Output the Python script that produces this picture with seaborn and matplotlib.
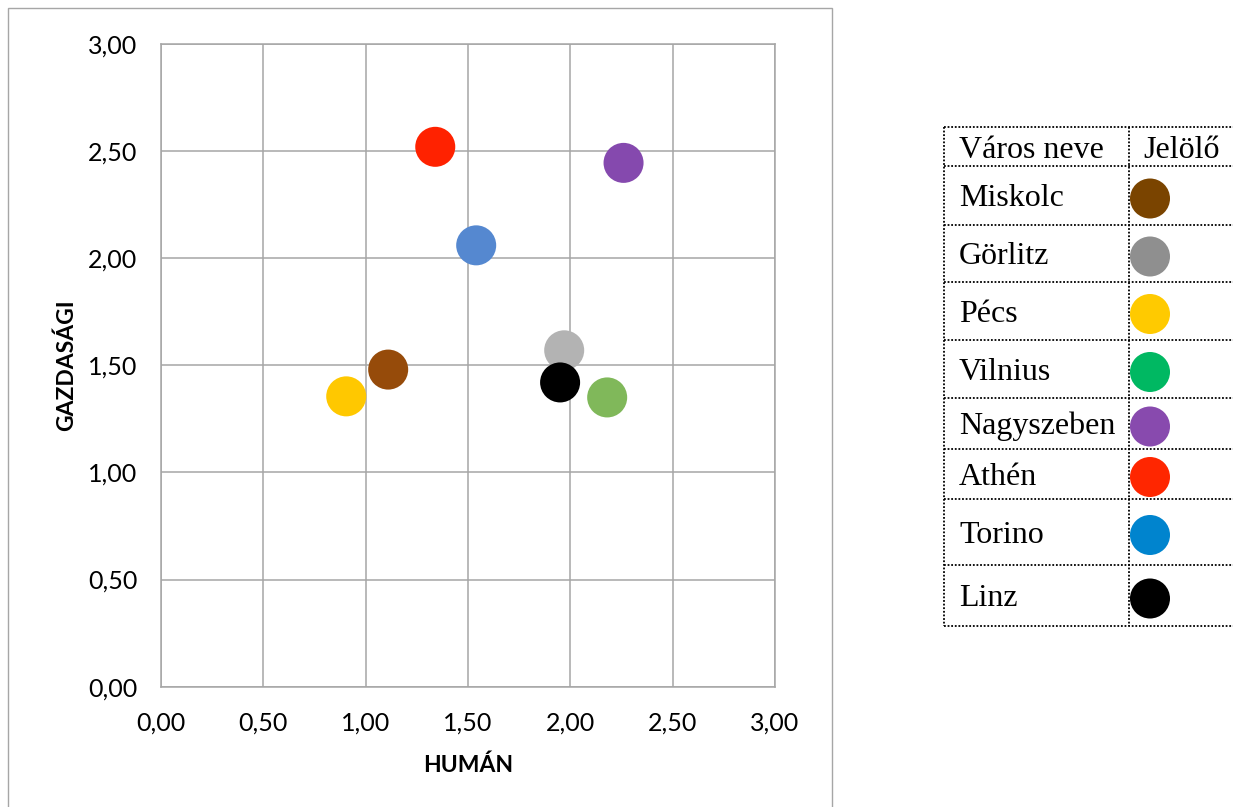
import matplotlib
matplotlib.use('Agg')
import matplotlib.pyplot as plt
import seaborn as sns
import pandas as pd
import numpy as np
from matplotlib.patches import Rectangle

# values
cities = ['Miskolc', 'Görlitz', 'Pécs', 'Vilnius', 'Nagyszeben', 'Athén', 'Torino', 'Linz']
human = [1.11, 1.97, 0.905, 2.18, 2.26, 1.34, 1.54, 1.95]
gazdasagi = [1.48, 1.57, 1.355, 1.35, 2.445, 2.52, 2.06, 1.42]
plot_colors = ['#964B0A', '#B3B3B3', '#FFC800', '#80B85A', '#8549AE', '#FF2200', '#5588D0', '#000000']
legend_colors = ['#7A4400', '#8F8F8F', '#FFCA00', '#00B862', '#884AAE', '#FF2600', '#0084CE', '#000000']
ticks = [0.0, 0.5, 1.0, 1.5, 2.0, 2.5, 3.0]
tick_labels = [f'{t:.2f}'.replace('.', ',') for t in ticks]

sns.set_theme(style='white')
plt.rcParams['font.family'] = ['Lato', 'DejaVu Sans']
plt.rcParams['text.color'] = 'black'
plt.rcParams['axes.labelcolor'] = 'black'

W, H = 1233, 807
fig = plt.figure(figsize=(W / 100, H / 100), dpi=100)

# outer chart frame
fig.add_artist(Rectangle((8 / W, -0.01), 824 / W, 1 - 8 / H + 0.01, transform=fig.transFigure,
                         fill=False, edgecolor='#A6A6A6', lw=1.0))

ax = fig.add_axes([161 / W, 1 - 686.6 / H, (775 - 161) / W, (686.6 - 44) / H])
df = pd.DataFrame({'city': cities, 'human': human, 'gazd': gazdasagi})
sns.scatterplot(data=df, x='human', y='gazd', hue='city', palette=dict(zip(cities, plot_colors)),
                s=830, linewidth=0, legend=False, ax=ax, zorder=3)
ax.set_xlim(0, 3)
ax.set_ylim(0, 3)
ax.set_xticks(ticks)
ax.set_xticklabels(tick_labels)
ax.set_yticks(ticks)
ax.set_yticklabels(tick_labels)
ax.grid(True, color='#A6A6A6', lw=1.1)
ax.set_axisbelow(True)
for sp in ax.spines.values():
    sp.set_color('#A6A6A6')
    sp.set_linewidth(1.1)
ax.tick_params(axis='x', length=0, pad=18, labelsize=18, colors='black')
ax.tick_params(axis='y', length=0, pad=17, labelsize=18, colors='black')
ax.set_xlabel('HUMÁN', fontsize=16.5, fontweight='bold', labelpad=14)
ax.set_ylabel('GAZDASÁGI', fontsize=16.5, fontweight='bold', labelpad=8)

# legend table on the right
row_bounds = [127, 166, 225, 282, 340, 398, 449, 499, 565, 626]
left, split, right = 944, 1129, 1233
lax = fig.add_axes([left / W, 1 - row_bounds[-1] / H, (right - left) / W, (row_bounds[-1] - row_bounds[0]) / H])
lax.set_xlim(left, right)
lax.set_ylim(row_bounds[-1], row_bounds[0])
lax.axis('off')
dots = (0, (1, 1))
lax.hlines(row_bounds, left, right, colors='black', linestyles=dots, lw=1.3, clip_on=False)
lax.vlines([left + 0.5, split], row_bounds[0], row_bounds[-1], colors='black', linestyles=dots, lw=1.3, clip_on=False)

centers = [(a + b) / 2 for a, b in zip(row_bounds[:-1], row_bounds[1:])]
serif = ['Liberation Serif', 'DejaVu Serif']
lax.text(left + 15, centers[0] + 11, 'Város neve', family=serif, fontsize=23, va='baseline', ha='left', color='black')
lax.text(1182, centers[0] + 11, 'Jelölő', family=serif, fontsize=23, va='baseline', ha='center', color='black')
for name, c in zip(cities, centers[1:]):
    lax.text(left + 15, c + 11, name, family=serif, fontsize=23, va='baseline', ha='left', color='black')

leg = pd.DataFrame({'city': cities, 'x': [split + 21] * len(cities), 'y': [c + 3 for c in centers[1:]]})
sns.scatterplot(data=leg, x='x', y='y', hue='city', palette=dict(zip(cities, legend_colors)),
                s=830, linewidth=0, legend=False, ax=lax, clip_on=False)
lax.set_xlim(left, right)
lax.set_ylim(row_bounds[-1], row_bounds[0])

fig.savefig('out.png', dpi=100)
